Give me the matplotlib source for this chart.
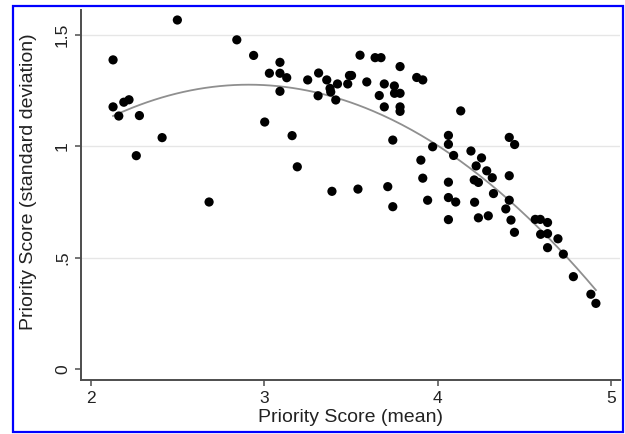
import numpy as np
import matplotlib.pyplot as plt
from matplotlib.patches import Rectangle

# Priority score: mean vs standard deviation (one point per item)
mean_score = [2.498, 2.841, 2.938, 2.127, 2.127, 2.160, 2.189, 2.219, 2.279, 2.410,
              2.261, 2.681, 3.090, 3.029, 3.090, 3.129, 3.090, 3.002, 3.160, 3.190,
              3.250, 3.313, 3.360, 3.310, 3.379, 3.383, 3.412, 3.422, 3.481, 3.491,
              3.503, 3.552, 3.591, 3.639, 3.673, 3.783, 3.692, 3.663, 3.692, 3.750,
              3.751, 3.783, 3.783, 3.783, 3.879, 3.914, 3.741, 3.390, 3.540, 3.712,
              3.741, 4.133, 3.971, 4.062, 4.062, 4.092, 3.903, 3.914, 4.192, 4.253,
              4.222, 4.283, 4.315, 4.211, 4.235, 4.413, 4.444, 4.413, 4.062, 3.942,
              4.062, 4.104, 4.213, 4.322, 4.413, 4.393, 4.062, 4.235, 4.292, 4.423,
              4.443, 4.563, 4.592, 4.634, 4.594, 4.634, 4.694, 4.634, 4.725, 4.783,
              4.884, 4.913]
sd_score = [1.567, 1.478, 1.408, 1.388, 1.177, 1.136, 1.198, 1.209, 1.138, 1.039,
            0.958, 0.750, 1.377, 1.328, 1.328, 1.308, 1.247, 1.109, 1.048, 0.908,
            1.298, 1.329, 1.298, 1.227, 1.260, 1.244, 1.208, 1.280, 1.280, 1.318,
            1.318, 1.409, 1.289, 1.398, 1.398, 1.358, 1.280, 1.228, 1.177, 1.271,
            1.238, 1.238, 1.177, 1.157, 1.309, 1.298, 1.028, 0.798, 0.808, 0.819,
            0.729, 1.159, 0.998, 1.049, 1.009, 0.959, 0.938, 0.857, 0.979, 0.948,
            0.912, 0.890, 0.859, 0.849, 0.838, 1.040, 1.008, 0.868, 0.839, 0.758,
            0.770, 0.750, 0.749, 0.788, 0.758, 0.719, 0.671, 0.679, 0.688, 0.669,
            0.614, 0.672, 0.672, 0.658, 0.605, 0.608, 0.585, 0.545, 0.516, 0.415,
            0.336, 0.295]

x_ticks = [2, 3, 4, 5]
y_ticks = [0, 0.5, 1, 1.5]
y_tick_labels = ['0', '.5', '1', '1.5']

plt.rcParams['font.family'] = ['Liberation Sans', 'DejaVu Sans']

fig = plt.figure(figsize=(6.25, 4.34), dpi=100)
ax = fig.add_axes([0.1296, 0.1244, 0.8624, 0.8526])

# quadratic fit, as in the original
x = np.array(mean_score)
y = np.array(sd_score)
coef = np.polyfit(x, y, 2)
xf = np.linspace(x.min(), x.max(), 200)
ax.plot(xf, np.polyval(coef, xf), color='#8f8f8f', lw=1.3, zorder=2)

ax.scatter(x, y, s=44, color='black', edgecolors='none', zorder=3)

ax.set_xlim(1.942, 5.052)
ax.set_ylim(-0.049, 1.612)
ax.set_xticks(x_ticks)
ax.set_yticks(y_ticks)
ax.set_yticklabels(y_tick_labels, rotation=90, va='center')
for g in y_ticks[1:]:
    ax.axhline(g, color='#e6e6e6', lw=1.0, zorder=1)

for s in ['top', 'right']:
    ax.spines[s].set_visible(False)
for s in ['left', 'bottom']:
    ax.spines[s].set_color('#4d4d4d')
    ax.spines[s].set_linewidth(1.4)
ax.tick_params(colors='#4d4d4d', labelcolor='#222222', length=4, width=1.1,
               labelsize=12.5, pad=4)

ax.set_xlabel('Priority Score (mean)', fontsize=14, color='#222222', labelpad=2)
ax.set_ylabel('Priority Score (standard deviation)', fontsize=14, color='#222222')
ax.yaxis.set_label_coords(-0.082, 0.535)

# blue frame around the whole picture
fig.patches.append(Rectangle((13 / 625, 2 / 434), 610 / 625, 426 / 434,
                             transform=fig.transFigure, fill=False,
                             edgecolor='#0000ff', lw=1.6))

fig.savefig('out.png', dpi=100)
